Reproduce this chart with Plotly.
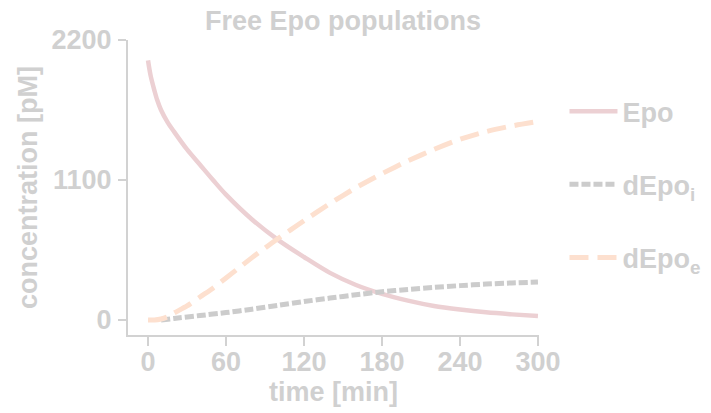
import plotly.graph_objects as go

# ---- data ----
time_epo = [0, 2, 5, 7, 10, 15, 20, 30, 40, 50, 60, 80, 100, 120, 140, 160, 180, 200, 220, 240, 260, 280, 300]
epo = [2040, 1920, 1800, 1730, 1650, 1555, 1480, 1340, 1220, 1100, 985, 790, 630, 495, 370, 275, 205, 152, 110, 82, 60, 44, 31]

time_di = [10, 20, 40, 60, 80, 100, 120, 140, 160, 180, 200, 220, 240, 260, 280, 300]
depo_i = [0, 12, 35, 58, 85, 115, 145, 172, 198, 222, 240, 256, 270, 282, 291, 298]

time_de = [0, 5, 10, 15, 20, 30, 40, 50, 60, 70, 80, 90, 100, 110, 120, 140, 160, 180, 200, 220, 240, 260, 280, 300]
depo_e = [0, 0, 8, 25, 55, 110, 181, 250, 330, 410, 490, 565, 640, 710, 780, 915, 1040, 1150, 1250, 1340, 1420, 1480, 1525, 1560]

x_ticks = [0, 60, 120, 180, 240, 300]
y_ticks = [0, 1100, 2200]

TXT = "#d0d0d0"
AX = "#d2d2d2"
FONT = dict(family="Liberation Sans", size=27, color=TXT, weight="bold")

# page body has an 8px margin, so the figure is drawn 8px smaller and shifted
W, H = 703, 405
L, T = 120, 32
PW, PH = 411, 295

fig = go.Figure()
fig.add_trace(go.Scatter(x=time_epo, y=epo, mode="lines", name="Epo",
                         line=dict(color="#ecd0d3", width=4.5, shape="spline", smoothing=0.9),
                         legendgroup="a"))
fig.add_trace(go.Scatter(x=time_di, y=depo_i, mode="lines", name="dEpo<sub>i</sub>",
                         line=dict(color="#cccccc", width=5, dash="9px,3px", shape="spline", smoothing=0.6),
                         legendgroup="b"))
fig.add_trace(go.Scatter(x=time_de, y=depo_e, mode="lines", name="dEpo<sub>e</sub>",
                         line=dict(color="#fde0cf", width=5, dash="19px,9px", shape="spline", smoothing=0.6),
                         legendgroup="c"))

fig.update_layout(
    width=W, height=H,
    margin=dict(l=L, r=W - L - PW, t=T, b=H - T - PH, autoexpand=False),
    paper_bgcolor="white", plot_bgcolor="white",
    font=FONT,
    title=dict(text="Free Epo populations", x=(343 - 128) / PW, xref="paper", xanchor="center",
               y=1 - 13 / H, yref="container", yanchor="middle",
               font=dict(family="Liberation Sans", size=27, color=TXT, weight="bold")),
    showlegend=True,
    legend=dict(x=1.062, xanchor="left", y=0.840, yanchor="top",
                yref="paper", tracegroupgap=35, itemwidth=48,
                font=dict(family="Liberation Sans", size=27, color=TXT, weight="bold"),
                bgcolor="rgba(0,0,0,0)"),
    xaxis=dict(range=[-15.4, 300.8], tickvals=x_ticks, ticktext=[str(v) for v in x_ticks],
               showgrid=False, zeroline=False, showline=True, linecolor=AX, linewidth=2,
               ticks="outside", ticklen=9, tickwidth=2, tickcolor=AX, automargin=False,
               ticklabelstandoff=-7,
               tickfont=FONT, title=dict(text="time [min]", font=FONT, standoff=5)),
    yaxis=dict(range=[-118, 2200], tickvals=y_ticks, ticktext=[str(v) for v in y_ticks],
               showgrid=False, zeroline=False, showline=True, linecolor=AX, linewidth=2,
               ticks="outside", ticklen=8, tickwidth=2, tickcolor=AX, automargin=False,
               ticklabelstandoff=1,
               tickfont=FONT, title=dict(text="concentration [pM]", font=FONT, standoff=6)),
)

fig.write_html("out.html")
